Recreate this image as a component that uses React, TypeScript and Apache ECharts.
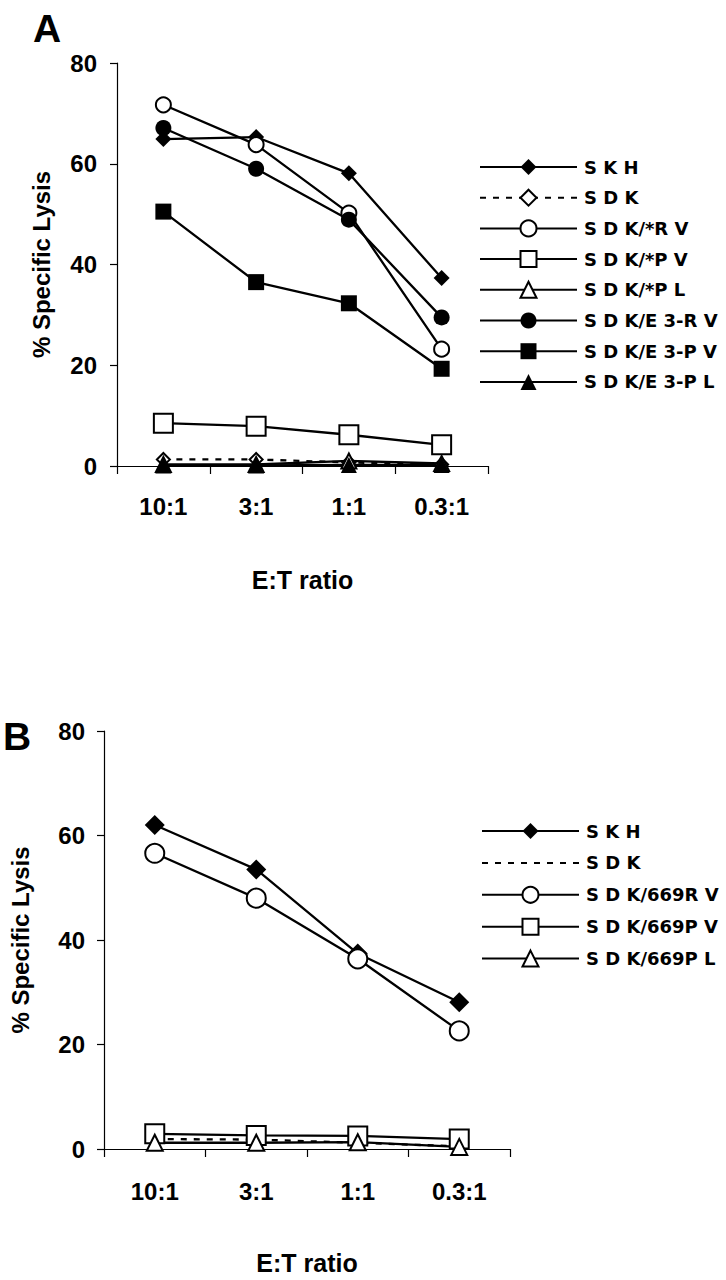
import React, { useEffect, useRef } from "react";
import * as echarts from "echarts";

// ---- data ----
const categories = ["10:1", "3:1", "1:1", "0.3:1"];
const yTicks = [0, 20, 40, 60, 80];

// Panel A
const namesA = [
  "S K H",
  "S D K",
  "S D K/*R V",
  "S D K/*P V",
  "S D K/*P L",
  "S D K/E 3-R V",
  "S D K/E 3-P V",
  "S D K/E 3-P L",
];
const aSKH = [64.9, 65.3, 58.1, 37.3];
const aSDK = [1.3, 1.3, 0.7, 0.3];
const aStarRV = [71.7, 63.8, 50.2, 23.2];
const aStarPV = [8.5, 7.9, 6.2, 4.2];
const aStarPL = [0.3, 0.3, 1.0, 0.5];
const aE3RV = [67.1, 59.0, 48.9, 29.5];
const aE3PV = [50.5, 36.5, 32.3, 19.3];
const aE3PL = [0.1, 0.1, 0.2, 0.2];

// Panel B
const namesB = ["S K H", "S D K", "S D K/669R V", "S D K/669P V", "S D K/669P L"];
const bSKH = [62.0, 53.5, 37.4, 28.1];
const bSDK = [1.9, 1.8, 1.2, 0.5];
const b669RV = [56.6, 48.0, 36.4, 22.6];
const b669PV = [2.9, 2.6, 2.5, 1.9];
const b669PL = [1.2, 1.2, 1.3, 0.4];

const AX_FONT = "'Liberation Sans', Arial, Helvetica, sans-serif";
const LEG_FONT = "'DejaVu Sans', 'Liberation Sans', sans-serif";

type SerDef = {
  name: string;
  data: number[];
  symbol: string;
  size: number;
  dashed?: boolean;
  noLegendSymbol?: boolean;
};

function makeSeries(d: SerDef) {
  return {
    type: "line",
    name: d.name,
    data: d.data,
    symbol: d.symbol,
    symbolSize: d.size,
    showSymbol: d.symbol !== "none",
    lineStyle: {
      color: "#000",
      width: 2.3,
      type: d.dashed ? [6, 7] : "solid",
    },
    itemStyle: {
      color: "#000",
      borderColor: "#000",
      borderWidth: d.symbol.indexOf("empty") === 0 ? 2 : 0,
    },
    emphasis: { disabled: true },
  };
}

type PanelCfg = {
  letter: string;
  letterTop: number;
  letterLeft: number;
  grid: { left: number; top: number; width: number; height: number };
  yNameGap: number;
  yLabelMargin: number;
  xLabelMargin: number;
  xNameGap: number;
  legend: { left: number; top: number; itemGap: number };
  series: SerDef[];
};

function makeOption(p: PanelCfg) {
  return {
    animation: false,
    title: {
      text: p.letter,
      left: p.letterLeft,
      top: p.letterTop,
      padding: 0,
      textStyle: { fontSize: 39, fontWeight: "bold", fontFamily: AX_FONT, color: "#000" },
    },
    grid: { ...p.grid },
    legend: {
      orient: "vertical",
      left: p.legend.left,
      top: p.legend.top,
      itemGap: p.legend.itemGap,
      itemWidth: 97,
      itemHeight: 20,
      padding: 0,
      selectedMode: false,
      data: p.series.map((s) =>
        s.noLegendSymbol ? { name: s.name, itemStyle: { opacity: 0 } } : { name: s.name }
      ),
      textStyle: {
        fontFamily: LEG_FONT,
        fontWeight: "bold",
        fontSize: 18,
        color: "#000",
        padding: [0, 0, 0, 2],
      },
    },
    xAxis: {
      type: "category",
      data: categories,
      boundaryGap: true,
      name: "E:T ratio",
      nameLocation: "middle",
      nameGap: p.xNameGap,
      nameTextStyle: { fontSize: 25, fontWeight: "bold", fontFamily: AX_FONT, color: "#000" },
      axisLine: { lineStyle: { color: "#000", width: 1.2 } },
      axisTick: { show: true, length: 8, lineStyle: { color: "#000", width: 1.2 } },
      axisLabel: {
        margin: p.xLabelMargin,
        fontSize: 24,
        fontWeight: "bold",
        fontFamily: AX_FONT,
        color: "#000",
      },
      splitLine: { show: false },
    },
    yAxis: {
      type: "value",
      min: yTicks[0],
      max: yTicks[yTicks.length - 1],
      interval: 20,
      name: "% Specific Lysis",
      nameLocation: "middle",
      nameGap: p.yNameGap,
      nameTextStyle: { fontSize: 24, fontWeight: "bold", fontFamily: AX_FONT, color: "#000" },
      axisLine: { show: true, lineStyle: { color: "#000", width: 1.2 } },
      axisTick: { show: true, length: 7, lineStyle: { color: "#000", width: 1.2 } },
      axisLabel: {
        margin: p.yLabelMargin,
        fontSize: 24,
        fontWeight: "bold",
        fontFamily: AX_FONT,
        color: "#000",
      },
      splitLine: { show: false },
    },
    series: p.series.map(makeSeries),
  };
}

const panelA: PanelCfg = {
  letter: "A",
  letterTop: 9,
  letterLeft: 33,
  grid: { left: 117, top: 63, width: 371, height: 403 },
  yNameGap: 64,
  yLabelMargin: 20,
  xLabelMargin: 28,
  xNameGap: 101,
  legend: { left: 479, top: 158, itemGap: 12.7 },
  series: [
    { name: namesA[0], data: aSKH, symbol: "diamond", size: 16 },
    { name: namesA[1], data: aSDK, symbol: "emptyDiamond", size: 13, dashed: true },
    { name: namesA[2], data: aStarRV, symbol: "emptyCircle", size: 15 },
    { name: namesA[3], data: aStarPV, symbol: "emptyRect", size: 19 },
    { name: namesA[4], data: aStarPL, symbol: "emptyTriangle", size: 15 },
    { name: namesA[5], data: aE3RV, symbol: "circle", size: 16 },
    { name: namesA[6], data: aE3PV, symbol: "rect", size: 16 },
    { name: namesA[7], data: aE3PL, symbol: "triangle", size: 16 },
  ],
};

const panelB: PanelCfg = {
  letter: "B",
  letterTop: 77,
  letterLeft: 3,
  grid: { left: 102, top: 91, width: 408, height: 422 },
  yNameGap: 72,
  yLabelMargin: 19,
  xLabelMargin: 30,
  xNameGap: 101,
  legend: { left: 481, top: 182, itemGap: 13.9 },
  series: [
    { name: namesB[0], data: bSKH, symbol: "diamond", size: 20 },
    { name: namesB[1], data: bSDK, symbol: "none", size: 0, dashed: true, noLegendSymbol: true },
    { name: namesB[2], data: b669RV, symbol: "emptyCircle", size: 19 },
    { name: namesB[3], data: b669PV, symbol: "emptyRect", size: 19 },
    { name: namesB[4], data: b669PL, symbol: "emptyTriangle", size: 16 },
  ],
};

function Panel({ cfg, top }: { cfg: PanelCfg; top: number }) {
  const ref = useRef<HTMLDivElement>(null);
  useEffect(() => {
    if (!ref.current) return;
    const chart = echarts.init(ref.current, undefined, { renderer: "svg" });
    chart.setOption(makeOption(cfg) as any);
    return () => chart.dispose();
  }, [cfg]);
  return (
    <div
      ref={ref}
      style={{ position: "absolute", left: 0, top, width: 726, height: 640 }}
    />
  );
}

export default function App() {
  return (
    <div style={{ position: "absolute", left: 0, top: 0, width: 726, height: 1280, background: "#fff" }}>
      <Panel cfg={panelA} top={0} />
      <Panel cfg={panelB} top={640} />
    </div>
  );
}
